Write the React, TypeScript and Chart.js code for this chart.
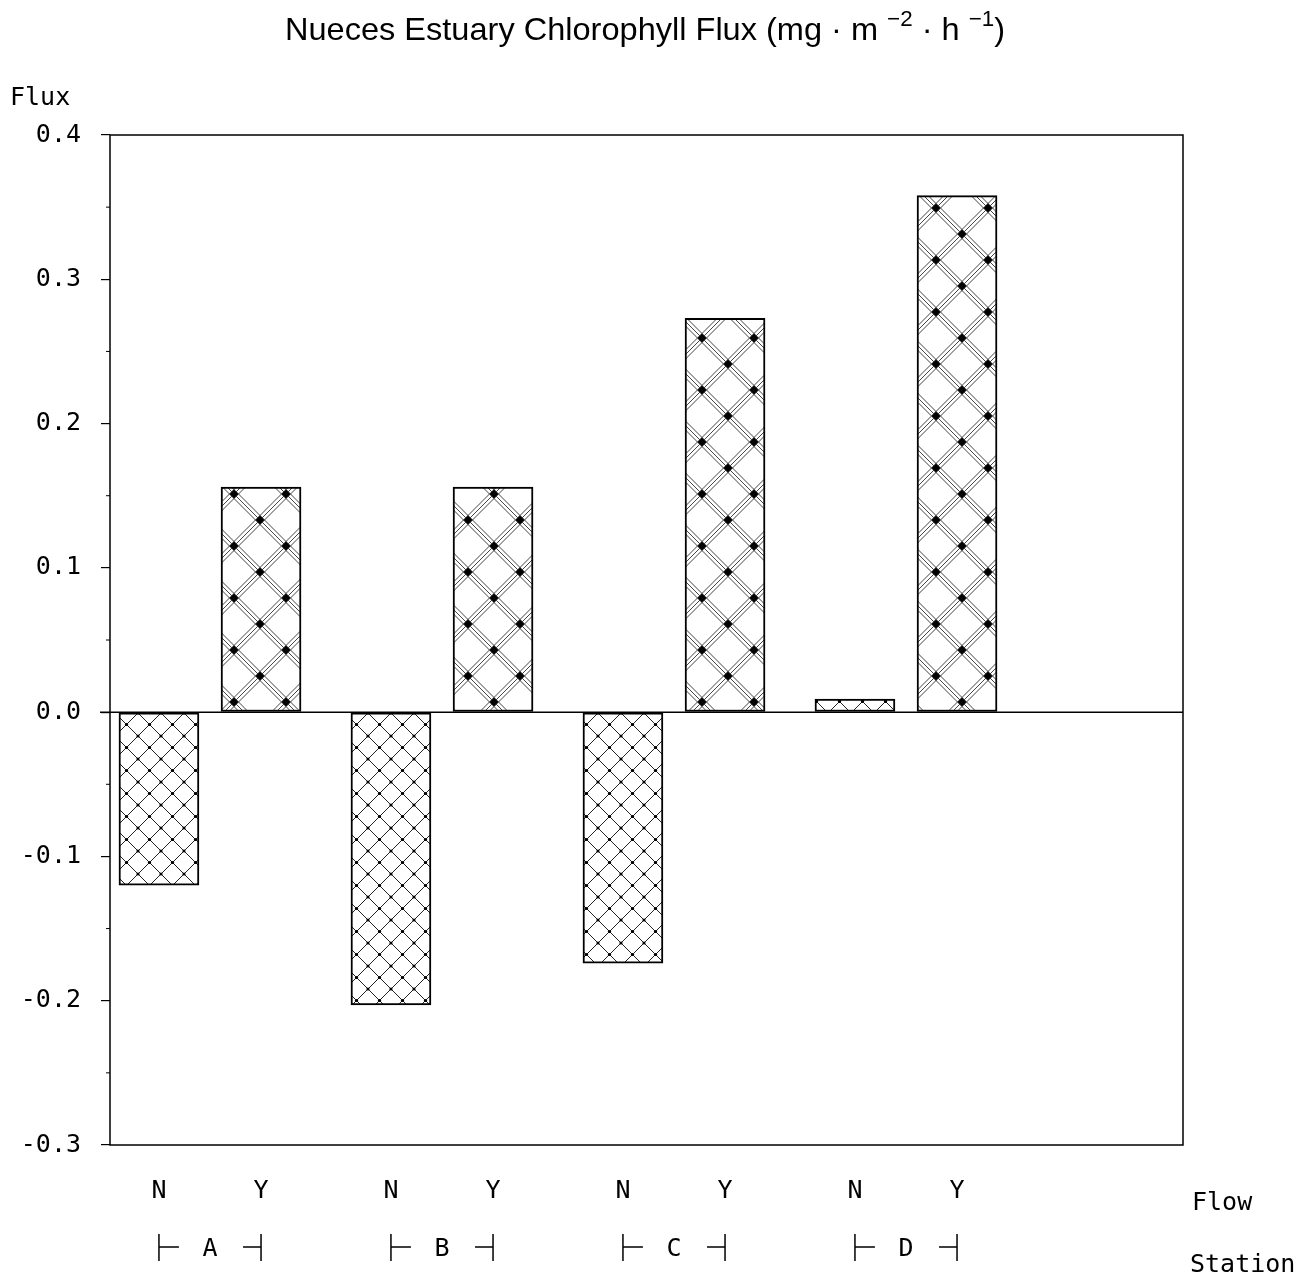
import React, { useEffect, useRef } from "react";
import { Chart, registerables } from "chart.js";

Chart.register(...registerables);

// ---- data ----
const stations = ["A", "B", "C", "D"];
const flowLabels = ["N", "Y"];
const noFlowValues = [-0.12, -0.203, -0.174, 0.009];
const flowValues = [0.156, 0.156, 0.273, 0.358];
const yMin = -0.3;
const yMax = 0.4;
const yStep = 0.1;
const titleMain = "Nueces Estuary Chlorophyll Flux (mg · m ";
const titleSup1 = "−2";
const titleMid = " · h ";
const titleSup2 = "−1";
const titleEnd = ")";
const yAxisLabel = "Flux";
const flowAxisLabel = "Flow";
const stationAxisLabel = "Station";

// layout helpers (station index based)
const pairOffset = 0.22;
const xMin = -0.431;
const xMax = 4.194;

function makeNPattern(ctx: CanvasRenderingContext2D) {
  const s = 23;
  const t = document.createElement("canvas");
  t.width = s;
  t.height = s;
  const c = t.getContext("2d")!;
  c.fillStyle = "#fff";
  c.fillRect(0, 0, s, s);
  c.strokeStyle = "#222";
  c.lineWidth = 1;
  c.beginPath();
  for (const k of [-s, 0, s]) {
    c.moveTo(k - 2, -2);
    c.lineTo(k + s + 2, s + 2);
    c.moveTo(k + s + 2, -2);
    c.lineTo(k - 2, s + 2);
  }
  c.stroke();
  c.fillStyle = "#000";
  const pts = [
    [0, 0], [s, 0], [0, s], [s, s], [s / 2, s / 2],
  ];
  for (const [x, y] of pts) {
    c.beginPath();
    c.arc(x, y, 1.6, 0, Math.PI * 2);
    c.fill();
  }
  return ctx.createPattern(t, "repeat")!;
}

function makeYPattern(ctx: CanvasRenderingContext2D) {
  const s = 52;
  const t = document.createElement("canvas");
  t.width = s;
  t.height = s;
  const c = t.getContext("2d")!;
  c.fillStyle = "#fff";
  c.fillRect(0, 0, s, s);
  c.strokeStyle = "#444";
  c.lineWidth = 1;
  const offs = [-3.2, 0, 3.2].map((d) => d * Math.SQRT2);
  c.beginPath();
  for (const k of [-s, 0, s]) {
    for (const d of offs) {
      c.moveTo(k + d - 10, -10);
      c.lineTo(k + d + s + 10, s + 10);
      c.moveTo(k + d + s + 10, -10);
      c.lineTo(k + d - 10, s + 10);
    }
  }
  c.stroke();
  c.fillStyle = "#000";
  const pts = [
    [0, 0], [s, 0], [0, s], [s, s], [s / 2, s / 2],
  ];
  const r = 4.5;
  for (const [x, y] of pts) {
    c.beginPath();
    c.moveTo(x, y - r);
    c.lineTo(x + r, y);
    c.lineTo(x, y + r);
    c.lineTo(x - r, y);
    c.closePath();
    c.fill();
  }
  return ctx.createPattern(t, "repeat")!;
}

const decorPlugin = {
  id: "decor",
  afterDraw(chart: any) {
    const ctx: CanvasRenderingContext2D = chart.ctx;
    const { left, right, top, bottom } = chart.chartArea;
    const ys = chart.scales.y;
    const xs = chart.scales.x;
    ctx.save();
    ctx.strokeStyle = "#000";
    ctx.fillStyle = "#000";

    // frame
    ctx.lineWidth = 1.5;
    ctx.strokeRect(left, top, right - left, bottom - top);

    // zero line
    const y0 = ys.getPixelForValue(0);
    ctx.beginPath();
    ctx.moveTo(left - 10, y0);
    ctx.lineTo(right, y0);
    ctx.stroke();

    // minor ticks
    ctx.lineWidth = 1;
    for (let v = yMin + yStep / 2; v < yMax; v += yStep) {
      const py = ys.getPixelForValue(v);
      ctx.beginPath();
      ctx.moveTo(left - 4, py);
      ctx.lineTo(left, py);
      ctx.stroke();
    }

    // title
    const mainFont = '32px "Liberation Sans", Arial, sans-serif';
    const supFont = '22px "Liberation Sans", Arial, sans-serif';
    const parts = [
      { t: titleMain, f: mainFont, dy: 0 },
      { t: titleSup1, f: supFont, dy: -14 },
      { t: titleMid, f: mainFont, dy: 0 },
      { t: titleSup2, f: supFont, dy: -14 },
      { t: titleEnd, f: mainFont, dy: 0 },
    ];
    let total = 0;
    for (const p of parts) {
      ctx.font = p.f;
      total += ctx.measureText(p.t).width;
    }
    const targetW = 720;
    const sx = targetW / total;
    ctx.save();
    ctx.translate(285, 40);
    ctx.scale(sx, 1);
    ctx.textBaseline = "alphabetic";
    ctx.textAlign = "left";
    let cx = 0;
    for (const p of parts) {
      ctx.font = p.f;
      ctx.fillText(p.t, cx, p.dy);
      cx += ctx.measureText(p.t).width;
    }
    ctx.restore();

    // y axis label
    ctx.font = '25px "DejaVu Sans Mono", monospace';
    ctx.textAlign = "left";
    ctx.textBaseline = "middle";
    ctx.fillText(yAxisLabel, 10, 98);

    // right side labels
    ctx.fillText(flowAxisLabel, 1192, 1203);
    ctx.fillText(stationAxisLabel, 1190, 1265);

    // station brackets
    const yb = 1248;
    ctx.lineWidth = 1.5;
    stations.forEach((s, i) => {
      const xl = xs.getPixelForValue(i - pairOffset);
      const xr = xs.getPixelForValue(i + pairOffset);
      const xc = (xl + xr) / 2;
      ctx.beginPath();
      ctx.moveTo(xl, yb - 14);
      ctx.lineTo(xl, yb + 13);
      ctx.moveTo(xl, yb - 1);
      ctx.lineTo(xl + 20, yb - 1);
      ctx.moveTo(xr, yb - 14);
      ctx.lineTo(xr, yb + 13);
      ctx.moveTo(xr, yb - 1);
      ctx.lineTo(xr - 18, yb - 1);
      ctx.stroke();
      ctx.textAlign = "center";
      ctx.fillText(s, xc, yb + 1);
    });

    ctx.restore();
  },
};

export default function App() {
  const ref = useRef<HTMLCanvasElement>(null);
  useEffect(() => {
    const canvas = ref.current!;
    const ctx = canvas.getContext("2d")!;
    const nPat = makeNPattern(ctx);
    const yPat = makeYPattern(ctx);
    const barPositions: number[] = [];
    stations.forEach((_, i) => {
      barPositions.push(i - pairOffset, i + pairOffset);
    });
    const chart = new Chart(canvas, {
      type: "bar",
      data: {
        datasets: [
          {
            label: flowLabels[0],
            data: stations.map((_, i) => ({ x: i - pairOffset, y: noFlowValues[i] })),
            backgroundColor: nPat as any,
            borderColor: "#000",
            borderWidth: 2,
            borderSkipped: false,
            barThickness: 80,
            grouped: false,
          } as any,
          {
            label: flowLabels[1],
            data: stations.map((_, i) => ({ x: i + pairOffset, y: flowValues[i] })),
            backgroundColor: yPat as any,
            borderColor: "#000",
            borderWidth: 2,
            borderSkipped: false,
            barThickness: 80,
            grouped: false,
          } as any,
        ],
      },
      options: {
        responsive: false,
        animation: false,
        events: [],
        layout: { padding: { left: 0, top: 135, right: 124, bottom: 0 } },
        plugins: {
          legend: { display: false },
          title: { display: false },
          tooltip: { enabled: false },
        },
        scales: {
          x: {
            type: "linear",
            min: xMin,
            max: xMax,
            offset: false,
            grid: { display: false, offset: false },
            border: { display: false },
            afterBuildTicks: (scale: any) => {
              scale.ticks = barPositions.map((v) => ({ value: v }));
            },
            afterFit: (scale: any) => {
              scale.height = 134;
            },
            ticks: {
              autoSkip: false,
              maxRotation: 0,
              padding: 23,
              color: "#000",
              font: { family: '"DejaVu Sans Mono", monospace', size: 25 },
              callback: (_v: any, i: number) => flowLabels[i % 2],
            },
          },
          y: {
            type: "linear",
            min: yMin,
            max: yMax,
            grid: {
              display: true,
              drawOnChartArea: false,
              drawTicks: true,
              tickLength: 9,
              color: "#000",
              lineWidth: 1.2,
            },
            border: { display: false },
            afterFit: (scale: any) => {
              scale.width = 110;
            },
            ticks: {
              stepSize: yStep,
              padding: 20,
              color: "#000",
              font: { family: '"DejaVu Sans Mono", monospace', size: 25 },
              callback: (v: any) => {
                const n = Number(v);
                return Math.abs(n) < 1e-9 ? "0.0" : n.toFixed(1);
              },
            },
          },
        },
      } as any,
      plugins: [decorPlugin],
    });
    return () => chart.destroy();
  }, []);
  return (
    <div style={{ position: "absolute", left: 0, top: 0, width: 1307, height: 1279, background: "#fff" }}>
      <canvas ref={ref} width={1307} height={1279} style={{ width: 1307, height: 1279, display: "block" }} />
    </div>
  );
}
